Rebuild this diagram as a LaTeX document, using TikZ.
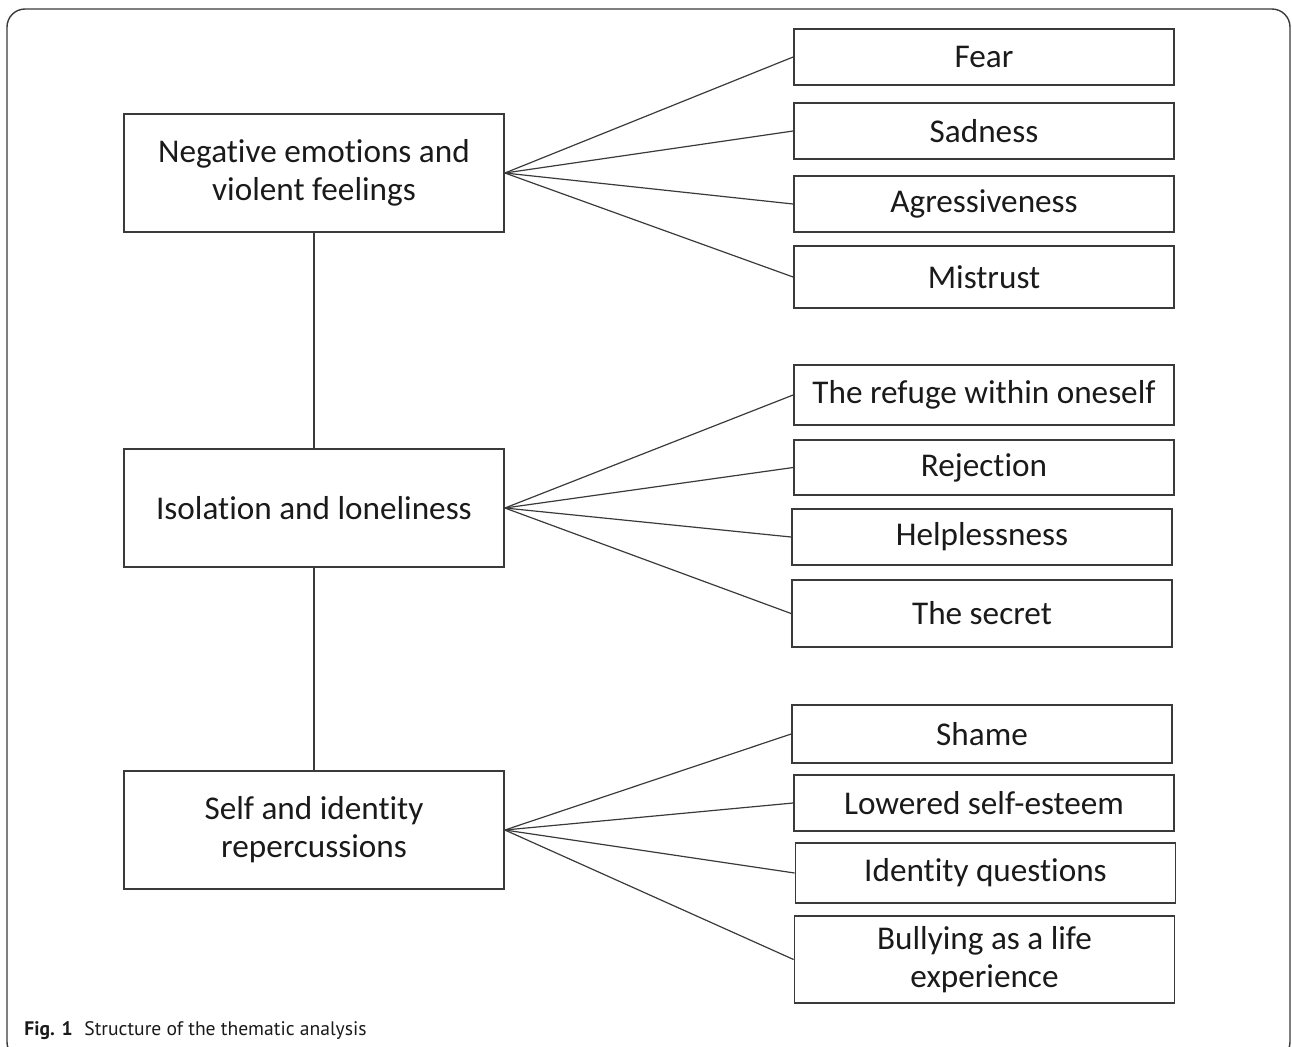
\documentclass[tikz,border=0pt]{standalone}
\usepackage{fontspec}
\setmainfont{Carlito}[Ligatures=NoCommon]
\newfontfamily\capfont{PT Sans}
\usetikzlibrary{positioning,calc}
\definecolor{boxline}{HTML}{3A3A3A}
\definecolor{inktext}{HTML}{1A1A1A}

\begin{document}
\begin{tikzpicture}[x=0.5pt,y=-0.5pt,
  theme/.style={draw=boxline,line width=0.9pt,minimum width=190pt,minimum height=59pt,inner sep=0,align=center,text=inktext,font=\fontsize{16.6}{19}\selectfont},
  sub/.style={draw=boxline,line width=0.9pt,minimum width=190pt,inner sep=0,align=center,text=inktext,font=\fontsize{16.6}{19}\selectfont},
  link/.style={draw=boxline,line width=0.6pt}]
\useasboundingbox (0,0) rectangle (1292,1046);
\draw[boxline,line width=0.7pt,rounded corners=9pt] (7,9) rectangle (1290,1060);

% themes
\node[theme] (neg) at (314,173) {Negative emotions and\\violent feelings};
\node[theme] (iso) at (314,508) {Isolation and loneliness};
\node[theme] (self) at (314,830) {Self and identity\\repercussions};

% sub-themes
\node[sub,minimum height=28pt] (fear) at (984,57) {Fear};
\node[sub,minimum height=28pt] (sad) at (984,131) {Sadness};
\node[sub,minimum height=28pt] (aggr) at (984,204) {Agressiveness};
\node[sub,minimum height=31pt] (mist) at (984,277) {Mistrust};
\node[sub,minimum height=30pt] (refuge) at (984,395) {The refuge within oneself};
\node[sub,minimum height=27.5pt] (rej) at (984,467.5) {Rejection};
\node[sub,minimum height=28pt] (help) at (982,537) {Helplessness};
\node[sub,minimum height=33.5pt] (secret) at (982,613.5) {The secret};
\node[sub,minimum height=29pt] (shame) at (982,734) {Shame};
\node[sub,minimum height=28pt] (lowered) at (984,803) {Lowered self-esteem};
\node[sub,minimum height=30pt] (ident) at (985.5,873) {Identity questions};
\node[sub,minimum height=43.5pt] (bully) at (984.5,959.5) {Bullying as a life\\experience};

\draw[link] (neg.south) -- (iso.north);
\draw[link] (iso.south) -- (self.north);
\foreach \s in {fear,sad,aggr,mist}
  \draw[link] (neg.east) -- (\s.west);
\foreach \s in {refuge,rej,help,secret}
  \draw[link] (iso.east) -- (\s.west);
\foreach \s in {shame,lowered,ident,bully}
  \draw[link] (self.east) -- (\s.west);

\node[anchor=base west,inner sep=0,text=inktext,font=\capfont\fontsize{9.8}{11}\selectfont] (caption) at (24,1035) {\textbf{Fig. 1}\hspace{0.6em}Structure of the thematic analysis};
\end{tikzpicture}
\end{document}
